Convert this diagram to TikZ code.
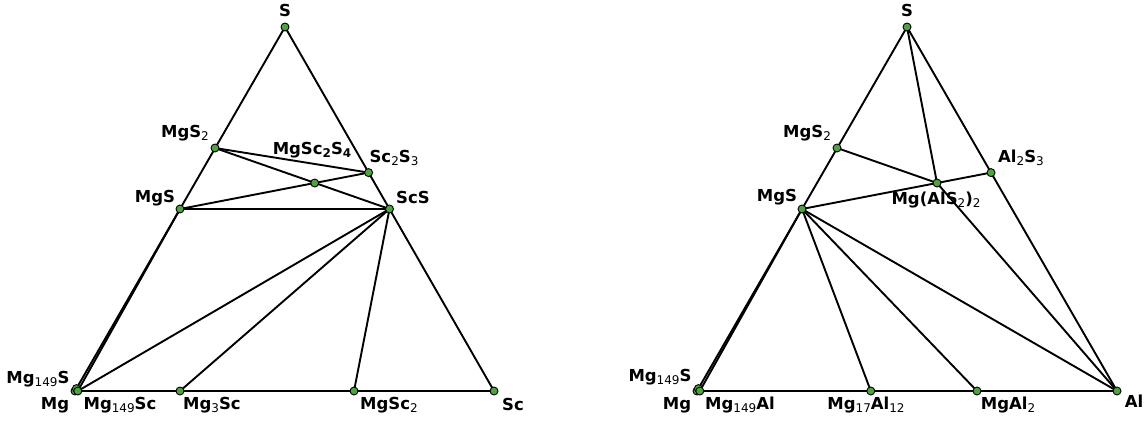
\documentclass[tikz,border=0pt]{standalone}
\usepackage{fontspec}
\setmainfont{DejaVu Sans}
\newcommand\sbs[1]{\raisebox{-0.3ex}{\fontsize{12}{12}\mdseries\selectfont #1}}
\newcommand\sbb[1]{\raisebox{-0.3ex}{\fontsize{12}{12}\bfseries\selectfont #1}}
\definecolor{dotgreen}{RGB}{76,165,60}
\tikzset{
  dot/.style={circle,draw=black,fill=dotgreen,line width=0.9pt,inner sep=0pt,minimum size=8pt},
  lbl/.style={font=\bfseries\fontsize{16.5}{16.5}\selectfont,inner sep=0pt},
  tie/.style={line width=1.9pt,line cap=round,line join=round}
}
\begin{document}
\begin{tikzpicture}[x=1pt,y=-1pt]
\useasboundingbox (0,0) rectangle (1147,423);
% ---------- left diagram points
\coordinate (S1) at (285,27);
\coordinate (Mg1) at (75,391);
\coordinate (Sc1) at (494,391);
\coordinate (Mg149S1) at (76.4,388.6);
\coordinate (Mg149Sc) at (77.8,391);
\coordinate (Mg3Sc) at (180,391);
\coordinate (MgSc2) at (354,391);
\coordinate (MgS2a) at (215,148);
\coordinate (MgSa) at (180,209);
\coordinate (ScS) at (389.5,209);
\coordinate (Sc2S3) at (368.6,172.6);
\coordinate (MgSc2S4) at (314.7,183);
% ---------- right diagram points
\coordinate (S2) at (907,27);
\coordinate (Mg2) at (697,391);
\coordinate (Al2) at (1117,391);
\coordinate (Mg149S2) at (698.4,388.6);
\coordinate (Mg149Al) at (699.8,391);
\coordinate (Mg17Al12) at (870.8,391);
\coordinate (MgAl2) at (977,391);
\coordinate (MgS2b) at (837,148);
\coordinate (MgSb) at (802,209);
\coordinate (Al2S3) at (991,172.6);
\coordinate (MgAl2S4) at (937,183);
% ---------- left lines
\draw[tie] (Mg1) -- (S1) -- (Sc1) -- cycle;
\draw[tie] (MgS2a) -- (Sc2S3);
\draw[tie] (MgS2a) -- (ScS);
\draw[tie] (MgSa) -- (Sc2S3);
\draw[tie] (MgSa) -- (ScS);
\draw[tie] (MgSa) -- (Mg149Sc);
\draw[tie] (ScS) -- (Mg149Sc);
\draw[tie] (ScS) -- (Mg3Sc);
\draw[tie] (ScS) -- (MgSc2);
% ---------- right lines
\draw[tie] (Mg2) -- (S2) -- (Al2) -- cycle;
\draw[tie] (S2) -- (MgAl2S4);
\draw[tie] (MgS2b) -- (MgAl2S4);
\draw[tie] (MgSb) -- (Al2S3);
\draw[tie] (MgAl2S4) -- (Al2);
\draw[tie] (MgSb) -- (Mg149Al);
\draw[tie] (MgSb) -- (Mg17Al12);
\draw[tie] (MgSb) -- (MgAl2);
\draw[tie] (MgSb) -- (Al2);
% ---------- dots
\foreach \p in {S1,Mg1,Sc1,Mg149S1,Mg149Sc,Mg3Sc,MgSc2,MgS2a,MgSa,ScS,Sc2S3,MgSc2S4,
                S2,Mg2,Al2,Mg149S2,Mg149Al,Mg17Al12,MgAl2,MgS2b,MgSb,Al2S3,MgAl2S4}
  \node[dot] (d\p) at (\p) {};
% ---------- left labels
\node[lbl] (lS1) at (285,10) {S};
\node[lbl] (lMgS2a) at (185,133) {MgS\sbs{2}};
\node[lbl] (lMgSc2S4) at (312,150) {MgSc\sbb{2}S\sbb{4}};
\node[lbl] (lSc2S3) at (394,158) {Sc\sbs{2}S\sbs{3}};
\node[lbl] (lMgSa) at (155,198) {MgS};
\node[lbl] (lScS) at (413,197) {ScS};
\node[lbl] (lMg149S1) at (38,379) {Mg\sbs{149}S};
\node[lbl] (lMg1) at (55,405) {Mg};
\node[lbl] (lMg149Sc) at (120,405) {Mg\sbs{149}Sc};
\node[lbl] (lMg3Sc) at (212,405) {Mg\sbs{3}Sc};
\node[lbl] (lMgSc2) at (389,405) {MgSc\sbs{2}};
\node[lbl] (lSc1) at (513,404) {Sc};
% ---------- right labels
\node[lbl] (lS2) at (907,10) {S};
\node[lbl] (lMgS2b) at (807,133) {MgS\sbs{2}};
\node[lbl] (lAl2S3) at (1021,158) {Al\sbs{2}S\sbs{3}};
\node[lbl] (lMgSb) at (777,197) {MgS};
\node[lbl] (lMgAl2S4) at (936,200) {Mg(AlS\sbs{2})\sbs{2}};
\node[lbl] (lMg149S2) at (660,377) {Mg\sbs{149}S};
\node[lbl] (lMg2) at (677,405) {Mg};
\node[lbl] (lMg149Al) at (740,405) {Mg\sbs{149}Al};
\node[lbl] (lMg17Al12) at (866,405) {Mg\sbs{17}Al\sbs{12}};
\node[lbl] (lMgAl2) at (1008,405) {MgAl\sbs{2}};
\node[lbl] (lAl2) at (1134,401) {Al};
\end{tikzpicture}
\end{document}
